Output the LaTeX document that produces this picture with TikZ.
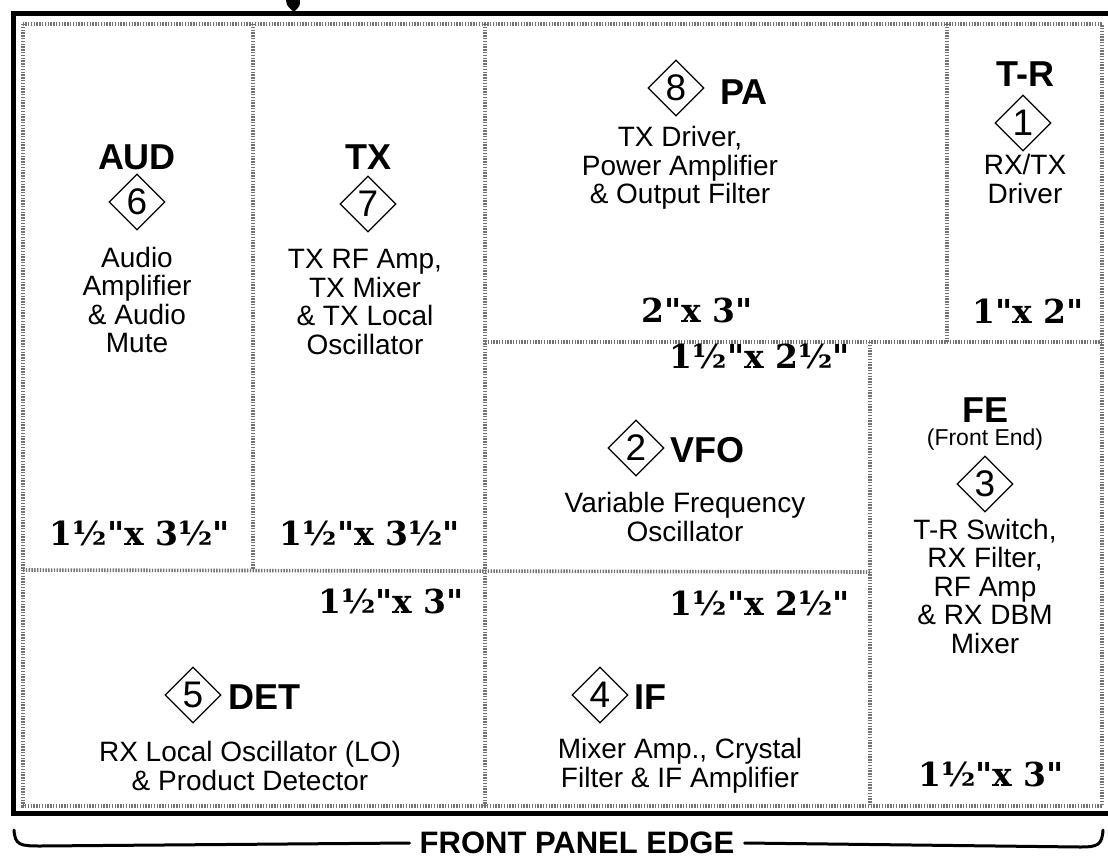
\documentclass[tikz,border=0pt]{standalone}
\usepackage{fontspec}
\setmainfont{Liberation Sans}
\newfontfamily\dimfont{DejaVu Serif}
\usetikzlibrary{shapes.geometric}
\begin{document}
\begin{tikzpicture}[x=1pt,y=-1pt,
  frame/.style={line width=5pt},
  divider/.style={line width=3.6pt, black!55, dash pattern=on 1.4pt off 1.4pt},
  head/.style={font=\fontsize{36}{38}\selectfont\bfseries, inner sep=0pt},
  body/.style={font=\fontsize{28}{28.5}\selectfont, align=center, inner sep=0pt},
  small/.style={font=\fontsize{23}{25}\selectfont, inner sep=0pt},
  dimtext/.style={font=\fontsize{33}{35}\selectfont\dimfont\bfseries, inner sep=0pt},
  num/.style={draw, shape=diamond, line width=1.3pt, minimum width=56pt, minimum height=56pt, inner sep=0pt, text depth=0pt, font=\fontsize{37}{38}\selectfont},
  brace/.style={line width=3pt, line cap=round},
]
\useasboundingbox (0,0) rectangle (1108,859);
% outer frame
\coordinate (fTR) at (1110,14);
\coordinate (fTL) at (13,14);
\coordinate (fBL) at (13,813);
\coordinate (fBR) at (1110,813);
\draw[frame] (fTR) -- (fTL) -- (fBL) -- (fBR);
\fill (286,0) -- (300,0) .. controls (300,6) .. (294,12) .. controls (287,6) .. (286,0) -- cycle;
\draw[line width=2pt] (294,8) -- (294,14);
% inner dotted boundary and dividers
\coordinate (iTL) at (23,24);
\coordinate (iBR) at (1102,806);
\draw[divider] (iTL) rectangle (iBR);
\coordinate (a1) at (253,24);
\coordinate (a2) at (253,570);
\coordinate (b1) at (23,570);
\coordinate (b2) at (870,572);
\coordinate (c1) at (485,24);
\coordinate (c2) at (485,806);
\coordinate (d1) at (485,342);
\coordinate (d2) at (1102,342);
\coordinate (e1) at (947,24);
\coordinate (e2) at (947,342);
\coordinate (g1) at (870,342);
\coordinate (g2) at (870,806);
\draw[divider] (a1) -- (a2);
\draw[divider] (b1) -- (b2);
\draw[divider] (c1) -- (c2);
\draw[divider] (d1) -- (d2);
\draw[divider] (e1) -- (e2);
\draw[divider] (g1) -- (g2);
% AUD
\node[head] (audh) at (137,157) {AUD};
\node[num] (aud) at (137,202) {6};
\node[body] (audt) at (137,300) {Audio\\Amplifier\\\& Audio\\Mute};
\node[dimtext] (audd) at (140,533) {1½"x 3½"};
% TX
\node[head] (txh) at (368,157) {TX};
\node[num] (tx) at (368,204) {7};
\node[body] (txt) at (365,302) {TX RF Amp,\\TX Mixer\\\& TX Local\\Oscillator};
\node[dimtext] (txd) at (370,533) {1½"x 3½"};
% PA
\node[num] (pa) at (676,88) {8};
\node[head, anchor=west] (pah) at (720,92) {PA};
\node[body] (pat) at (680,168) {TX Driver,\\Power Amplifier\\\& Output Filter};
\node[dimtext] (pad) at (697,310) {2"x 3"};
% T-R
\node[head] (trh) at (1025,74) {T-R};
\node[num] (tr) at (1023,123) {1};
\node[body] (trt) at (1025,179) {RX/TX\\Driver};
\node[dimtext] (trd) at (1028,311) {1"x 2"};
% VFO
\node[dimtext] (vfod) at (760,356) {1½"x 2½"};
\node[num] (vfo) at (636,448) {2};
\node[head, anchor=west] (vfoh) at (670,450) {VFO};
\node[body] (vfot) at (685,517) {Variable Frequency\\Oscillator};
% IF
\node[dimtext] (ifd) at (760,603) {1½"x 2½"};
\node[num] (if) at (600,695) {4};
\node[head, anchor=west] (ifh) at (634,697) {IF};
\node[body] (ift) at (680,766) {Mixer Amp., Crystal\\Filter \& IF Amplifier};
% DET
\node[dimtext] (detd) at (391,601) {1½"x 3"};
\node[num] (det) at (193,695) {5};
\node[head, anchor=west] (deth) at (228,697) {DET};
\node[body] (dett) at (250,766) {RX Local Oscillator (LO)\\\& Product Detector};
% FE
\node[head] (feh) at (985,410) {FE};
\node[small] (fes) at (985,440) {(Front End)};
\node[num] (fe) at (985,484) {3};
\node[body] (fet) at (985,586) {T-R Switch,\\RX Filter,\\RF Amp\\\& RX DBM\\Mixer};
\node[dimtext] (fed) at (991,774) {1½"x 3"};
% front panel edge
\node[font=\fontsize{31}{33}\selectfont\bfseries, inner xsep=10pt, inner ysep=0pt] (fpe) at (577,843) {FRONT PANEL EDGE};
\coordinate (lb) at (14,830);
\coordinate (rb) at (1103,830);
\draw[brace] (lb) .. controls (15,845) and (20,846) .. (40,846) -- (fpe.west);
\draw[brace] (fpe.east) -- (1080,847) .. controls (1098,847) and (1102,845) .. (rb);
\end{tikzpicture}
\end{document}
